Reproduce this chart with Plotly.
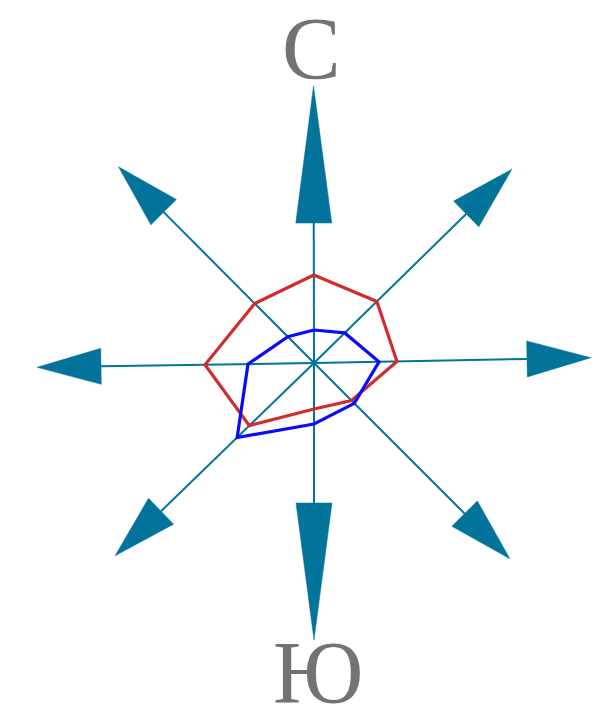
import math
import plotly.graph_objects as go

# Compass directions (Russian abbreviations) and their axis angles (degrees, counterclockwise from east)
directions = ["С", "СВ", "В", "ЮВ", "Ю", "ЮЗ", "З", "СЗ"]
direction_angles = [90.1, 44.4, 1.1, 315.0, 270.0, 224.1, 180.9, 134.9]

# Series values along each direction
red_values = [88, 88, 83, 53, 46, 90, 109, 84]
blue_values = [33, 43, 65, 57, 61, 107, 66, 37]

# Label texts shown at the ends of the north/south axes
north_label = "С"
south_label = "Ю"

AXIS_LEN = 277
HEAD_LONG = 137
HEAD_SHORT = 64
HEAD_HALF = 18
TEAL = "#02739a"

fig = go.Figure()

# axis lines and arrow heads
lx, ly, tx, ty = [], [], [], []
for name, a in zip(directions, direction_angles):
    r = math.radians(a)
    ux, uy = math.cos(r), math.sin(r)
    px_, py_ = -uy, ux
    head = HEAD_LONG if name in ("С", "Ю") else HEAD_SHORT
    base = AXIS_LEN - head
    lx += [0, base * ux, None]
    ly += [0, base * uy, None]
    tip = (AXIS_LEN * ux, AXIS_LEN * uy)
    b1 = (base * ux + HEAD_HALF * px_, base * uy + HEAD_HALF * py_)
    b2 = (base * ux - HEAD_HALF * px_, base * uy - HEAD_HALF * py_)
    tx += [tip[0], b1[0], b2[0], tip[0], None]
    ty += [tip[1], b1[1], b2[1], tip[1], None]

fig.add_trace(go.Scatter(x=lx, y=ly, mode="lines", line=dict(color=TEAL, width=2),
                         hoverinfo="skip", showlegend=False))
fig.add_trace(go.Scatter(x=tx, y=ty, mode="lines", fill="toself", fillcolor=TEAL,
                         line=dict(color=TEAL, width=0.5), hoverinfo="skip", showlegend=False))


def polygon(values):
    xs, ys = [], []
    for v, a in zip(values, direction_angles):
        r = math.radians(a)
        xs.append(v * math.cos(r))
        ys.append(v * math.sin(r))
    xs.append(xs[0])
    ys.append(ys[0])
    return xs, ys


rx, ry = polygon(red_values)
bx, by = polygon(blue_values)
fig.add_trace(go.Scatter(x=rx, y=ry, mode="lines", line=dict(color="#d22b2b", width=3.2),
                         text=directions + [directions[0]], showlegend=False))
fig.add_trace(go.Scatter(x=bx, y=by, mode="lines", line=dict(color="#0a0aff", width=3.2),
                         text=directions + [directions[0]], showlegend=False))

label_font = dict(family="Liberation Serif, Times New Roman, serif", size=88, color="#737373")
fig.add_annotation(x=-2.5, y=315, text=north_label, showarrow=False, font=label_font,
                   xanchor="center", yanchor="middle")
fig.add_annotation(x=4, y=-309, text=south_label, showarrow=False, font=label_font,
                   xanchor="center", yanchor="middle")

fig.update_layout(
    width=591, height=699,
    margin=dict(l=0, r=0, t=0, b=0),
    paper_bgcolor="white", plot_bgcolor="white",
    xaxis=dict(range=[-306, 285], visible=False, fixedrange=True),
    yaxis=dict(range=[-344, 355], visible=False, fixedrange=True),
    showlegend=False,
)

fig.write_html("out.html")
